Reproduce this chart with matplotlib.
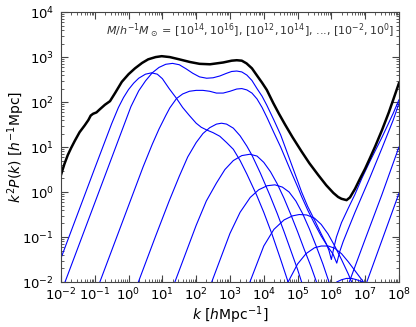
import numpy as np
import matplotlib
matplotlib.use("Agg")
import matplotlib.pyplot as plt

# all values as log10(k), log10(k^2 P)
total_logk = [-2.0, -1.9, -1.8, -1.7, -1.59, -1.45, -1.3, -1.19, -1.12, -1.05, -0.95, -0.85, -0.7,
              -0.55, -0.4, -0.2, 0.0, 0.19, 0.4, 0.58, 0.8, 0.98, 1.22, 1.5, 1.82, 2.1, 2.41, 2.8,
              3.05, 3.2, 3.35, 3.49, 3.65, 3.79, 3.95, 4.09, 4.28, 4.45, 4.63, 4.85, 5.12, 5.35,
              5.61, 5.85, 6.06, 6.2, 6.3, 6.45, 6.55, 6.7, 6.85, 7.0, 7.14, 7.3, 7.5, 7.7, 7.83, 8.0]
total_logp = [0.38, 0.62, 0.82, 0.98, 1.14, 1.33, 1.48, 1.6, 1.7, 1.74, 1.77, 1.84, 1.94,
              2.02, 2.2, 2.45, 2.62, 2.75, 2.87, 2.95, 3.0, 3.02, 3.0, 2.95, 2.89, 2.85, 2.84, 2.88,
              2.92, 2.93, 2.92, 2.86, 2.75, 2.6, 2.43, 2.27, 1.98, 1.74, 1.5, 1.22, 0.9, 0.64,
              0.38, 0.15, -0.02, -0.11, -0.15, -0.18, -0.12, 0.07, 0.3, 0.52, 0.75, 1.02, 1.38, 1.77, 2.05, 2.42]

# one curve per mass bin, [1e14,1e16] ... [1e-2,1e0]
bin_logk = [
    [-2.0, -1.0, -0.5, -0.3, -0.15, 0.0, 0.15, 0.3, 0.5, 0.68, 0.85, 1.0, 1.2, 1.42, 1.6, 1.8, 2.0,
     2.15, 2.31, 2.5, 2.7, 2.9, 3.1, 3.3, 3.5, 3.79, 4.0, 4.25, 4.5, 4.72],
    [-1.88, -1.0, -0.5, 0.07, 0.3, 0.5, 0.7, 0.9, 1.1, 1.3, 1.5, 1.7, 1.9, 2.1, 2.31, 2.5, 2.7, 2.9,
     3.05, 3.2, 3.35, 3.5, 3.65, 3.8, 3.95, 4.09, 4.3, 4.5, 4.78, 5.0, 5.12, 5.3, 5.5, 5.7, 5.85,
     5.93, 6.0, 6.07, 6.15, 6.3, 6.5, 6.7, 6.9, 7.14, 7.5, 7.83, 8.0],
    [-0.85, 0.0, 0.43, 0.7, 0.9, 1.1, 1.22, 1.42, 1.6, 1.8, 2.0, 2.2, 2.4, 2.6, 2.8, 3.0, 3.2, 3.35,
     3.5, 3.65, 3.8, 3.95, 4.1, 4.3, 4.5, 4.78, 5.0, 5.12, 5.3, 5.5, 5.7, 5.9, 6.05, 6.16, 6.25,
     6.35, 6.5, 6.7, 6.9, 7.14, 7.5, 7.83, 8.0],
    [0.29, 0.8, 1.2, 1.5, 1.75, 2.0, 2.2, 2.4, 2.6, 2.75, 2.9, 3.1, 3.3, 3.5, 3.65, 3.9, 4.18, 4.4,
     4.6, 4.8, 5.0, 5.12],
    [1.37, 2.0, 2.3, 2.6, 2.85, 3.1, 3.35, 3.59, 3.8, 4.0, 4.2, 4.4, 4.6, 4.8, 5.0, 5.2, 5.4, 5.56],
    [2.46, 3.0, 3.3, 3.6, 3.85, 4.1, 4.33, 4.55, 4.75, 4.95, 5.15, 5.35, 5.55, 5.75, 5.93],
    [3.59, 4.0, 4.3, 4.6, 4.85, 5.05, 5.27, 5.5, 5.7, 5.9, 6.1, 6.3, 6.5, 6.6],
    [4.72, 5.0, 5.25, 5.5, 5.7, 5.91, 6.1, 6.3, 6.5, 6.7, 6.9, 6.95],
    [6.16, 6.3, 6.45, 6.6, 6.75, 6.92],
]
bin_logp = [
    [-1.47, 0.53, 1.52, 1.88, 2.1, 2.28, 2.42, 2.53, 2.62, 2.65, 2.62, 2.52, 2.3, 2.08, 1.88, 1.7, 1.53,
     1.44, 1.38, 1.32, 1.24, 1.1, 0.95, 0.7, 0.4, -0.07, -0.45, -0.95, -1.5, -2.0],
    [-2.0, -0.24, 0.76, 1.9, 2.25, 2.47, 2.65, 2.77, 2.84, 2.86, 2.83, 2.74, 2.64, 2.56, 2.53, 2.54, 2.58, 2.64,
     2.68, 2.69, 2.67, 2.6, 2.48, 2.3, 2.13, 1.93, 1.6, 1.27, 0.7, 0.25, 0.0, -0.32, -0.62, -0.93, -1.15,
     -1.3, -1.5, -1.25, -1.0, -0.68, -0.36, -0.05, 0.3, 0.68, 1.22, 1.75, 2.05],
    [-2.0, -0.3, 0.56, 1.06, 1.4, 1.7, 1.87, 2.08, 2.18, 2.24, 2.26, 2.26, 2.24, 2.2, 2.2, 2.24, 2.29, 2.3,
     2.27, 2.2, 2.07, 1.88, 1.65, 1.32, 1.0, 0.5, 0.12, -0.1, -0.4, -0.7, -0.98, -1.22, -1.38, -1.58, -1.32,
     -1.1, -0.82, -0.45, -0.1, 0.32, 0.98, 1.6, 1.97],
    [-2.0, -0.98, -0.2, 0.35, 0.78, 1.1, 1.3, 1.43, 1.51, 1.53, 1.51, 1.42, 1.25, 1.02, 0.82, 0.42, -0.07, -0.48,
     -0.88, -1.3, -1.72, -2.0],
    [-2.0, -0.74, -0.2, 0.2, 0.5, 0.7, 0.81, 0.84, 0.8, 0.66, 0.45, 0.18, -0.14, -0.5, -0.88, -1.28, -1.66, -2.0],
    [-2.0, -0.92, -0.45, -0.12, 0.05, 0.14, 0.16, 0.11, 0.0, -0.2, -0.48, -0.82, -1.2, -1.6, -2.0],
    [-2.0, -1.2, -0.83, -0.62, -0.53, -0.5, -0.51, -0.58, -0.72, -0.93, -1.2, -1.5, -1.82, -2.0],
    [-2.0, -1.6, -1.37, -1.24, -1.2, -1.2, -1.25, -1.37, -1.55, -1.75, -1.95, -2.0],
    [-2.0, -1.95, -1.92, -1.92, -1.95, -2.0],
]
# rising high-k branches whose dips sit below the plotted range
extra_logk = [[6.53, 7.0, 7.49, 8.0], [7.05, 8.0]]
extra_logp = [[-2.0, -1.05, -0.07, 1.0], [-2.0, -0.03]]

plt.rcParams['mathtext.fontset'] = 'dejavusans'
fig = plt.figure(figsize=(4.16, 3.27), dpi=100)
ax = fig.add_axes([0.1466, 0.1376, 0.8124, 0.8254])

for lk, lp in zip(bin_logk + extra_logk, bin_logp + extra_logp):
    ax.plot(10.0 ** np.array(lk), 10.0 ** np.array(lp), color='blue', lw=0.8)
ax.plot(10.0 ** np.array(total_logk), 10.0 ** np.array(total_logp), color='black', lw=1.8)

ax.set_xscale('log')
ax.set_yscale('log')
ax.set_xlim(1e-2, 1e8)
ax.set_ylim(1e-2, 1e4)
ax.set_xticks([10.0 ** n for n in range(-2, 9)])
ax.set_xticklabels([r'$10^{%d}$' % n for n in range(-2, 9)])
ax.set_yticks([10.0 ** n for n in range(-2, 5)])
ax.set_yticklabels([r'$10^{%d}$' % n for n in range(-2, 5)])
ax.xaxis.set_minor_locator(matplotlib.ticker.LogLocator(subs=np.arange(2, 10), numticks=20))
ax.yaxis.set_minor_locator(matplotlib.ticker.LogLocator(subs=np.arange(2, 10), numticks=20))
ax.xaxis.set_minor_formatter(matplotlib.ticker.NullFormatter())
ax.yaxis.set_minor_formatter(matplotlib.ticker.NullFormatter())
ax.tick_params(which='both', direction='in', top=True, right=True, labelsize=9.5,
               color='#444444')
ax.tick_params(which='major', length=5)
ax.tick_params(which='minor', length=2.5)
ax.tick_params(axis='x', pad=3.5)
ax.tick_params(axis='y', pad=5)
for s in ax.spines.values():
    s.set_color('#444444')

ax.set_xlabel(r'$k\ [h\mathrm{Mpc}^{-1}]$', fontsize=10, va='center')
ax.xaxis.set_label_coords(0.5, -0.122)
ax.set_ylabel(r'$k^2P(k)\ [h^{-1}\mathrm{Mpc}]$', fontsize=10, va='center')
ax.yaxis.set_label_coords(-0.132, 0.5)
ax.text(0.985, 0.93,
        r'$M/h^{-1}M_\odot$ = [$10^{14}, 10^{16}$], [$10^{12}, 10^{14}$], ..., [$10^{-2}, 10^{0}$]',
        transform=ax.transAxes, ha='right', va='center', fontsize=8, color='#333333')

fig.savefig('out.png', dpi=100)
